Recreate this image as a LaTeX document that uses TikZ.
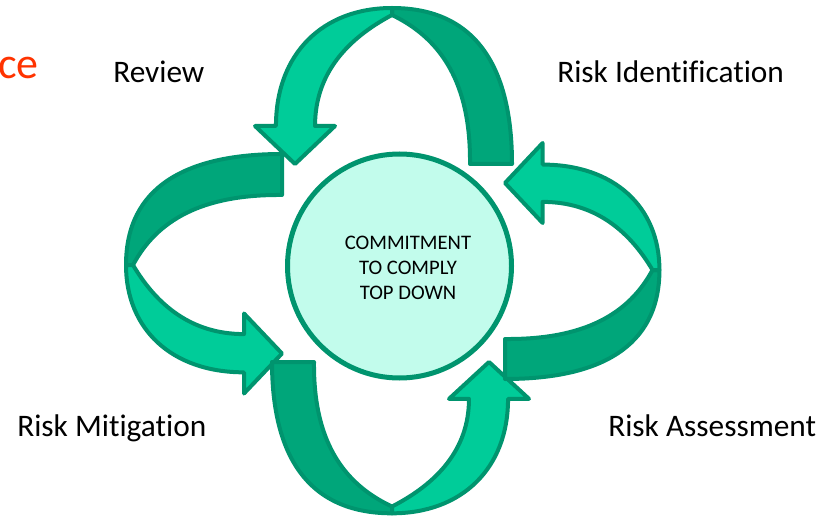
\documentclass[tikz,border=0pt]{standalone}
\usepackage{fontspec}
\setmainfont{Carlito}[Ligatures=NoCommon]
\usepackage{tikz}

\definecolor{bandlight}{RGB}{0,204,153}
\definecolor{banddark}{RGB}{0,166,122}
\definecolor{bandedge}{RGB}{0,148,110}
\definecolor{hubfill}{RGB}{194,252,236}
\definecolor{titlered}{RGB}{255,51,0}

\begin{document}
\begin{tikzpicture}[x=0.75pt, y=-0.75pt,
    band/.style={draw=bandedge, line width=3pt, line join=round},
    steplabel/.style={font=\fontsize{23.5}{28}\selectfont, inner sep=0pt, anchor=base west}]

  \useasboundingbox (0,0) rectangle (827,520);

  % four looped ribbons: base point, turn, outer/inner half width, length
  \foreach \ax/\ay/\turn/\wout/\win/\len in
      {392/164/0/120/78/1, 282/265/90/111/70/1,
       392/362/180/120/78/0.97, 505/270/-90/109/69/0.99} {
    \begin{scope}[shift={(\ax,\ay)}, rotate=\turn, yscale=\len]
      % tail half, darker
      \draw [band, fill=banddark] (\win,0) -- (\wout,0)
        .. controls (\wout,-95) and ({0.71*\wout},-156) .. (0,-156) -- (0,-149)
        .. controls ({0.64*\win},-125) and ({1.01*\win},-80) .. (\win,0) -- cycle;
      % head half with the arrow tip, lighter
      \draw [band, fill=bandlight] ({-0.967*\wout},-38)
        .. controls ({-0.967*\wout},-110) and ({-0.58*\wout},-156) .. (0,-156) -- (0,-149)
        .. controls ({-0.58*\win},-125) and ({-0.987*\win},-90) .. ({-0.987*\win},-38)
        -- ({-(\wout+\win)/2+42},-38) -- ({-(\wout+\win)/2+2},0)
        -- ({-(\wout+\win)/2-38},-38) -- cycle;
    \end{scope}
  }

  \node [circle, draw=bandedge, line width=3.75pt, fill=hubfill,
    minimum size=168pt] (hub) at (399.5,266) {};
  \node [align=center, font=\fontsize{15.5}{18.75}\selectfont, inner sep=0pt]
    (pledge) at (408,267.5) {COMMITMENT\\TO COMPLY\\TOP DOWN};

  \node [steplabel] (review) at (113,83) {Review};
  \node [steplabel] (identify) at (557,83) {Risk Identification};
  \node [steplabel] (mitigate) at (17,436) {Risk Mitigation};
  \node [steplabel] (assess) at (608,436) {Risk Assessment};

  \node [font=\fontsize{33}{40}\selectfont, text=titlered, inner sep=0pt,
    anchor=base east] (title) at (39,79) {ce};

\end{tikzpicture}
\end{document}
